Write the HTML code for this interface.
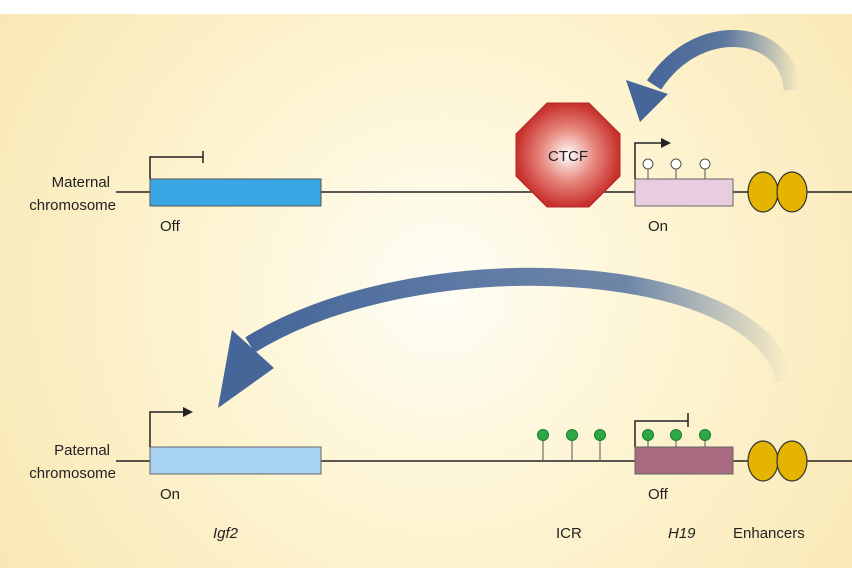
<!DOCTYPE html>
<html><head><style>body{margin:0}svg{display:block}text{font-family:"Liberation Sans",sans-serif;fill:#222}</style></head>
<body>
<svg width="852" height="568" viewBox="0 0 852 568" xmlns="http://www.w3.org/2000/svg">
<defs>
<radialGradient id="bg" cx="440" cy="290" r="520" gradientUnits="userSpaceOnUse">
<stop offset="0" stop-color="#fffef6"/><stop offset="0.45" stop-color="#fdf4d2"/><stop offset="1" stop-color="#f9e8b4"/></radialGradient>
<radialGradient id="oct" cx="0.5" cy="0.5" r="0.5"><stop offset="0" stop-color="#fff"/><stop offset="0.5" stop-color="#e88a80"/><stop offset="1" stop-color="#c8302c"/></radialGradient>
<linearGradient id="g1" x1="790" y1="0" x2="250" y2="0" gradientUnits="userSpaceOnUse"><stop offset="0" stop-color="#4a6a9a" stop-opacity="0"/><stop offset="0.3" stop-color="#4a6a9a" stop-opacity="0.8"/><stop offset="1" stop-color="#46669a"/></linearGradient>
<linearGradient id="g2" x1="800" y1="0" x2="650" y2="0" gradientUnits="userSpaceOnUse"><stop offset="0" stop-color="#4a6a9a" stop-opacity="0"/><stop offset="0.5" stop-color="#4a6a9a" stop-opacity="0.9"/><stop offset="1" stop-color="#46669a"/></linearGradient>
</defs>
<rect width="852" height="568" fill="#fff"/>
<rect x="0" y="14" width="852" height="554" fill="url(#bg)"/>
<!-- arrows -->
<path d="M785 380 C760 260 420 240 250 345" fill="none" stroke="url(#g1)" stroke-width="18"/>
<polygon points="218,408 232,330 274,368" fill="#46669a"/>
<path d="M792 90 C790 30 700 15 654 85" fill="none" stroke="url(#g2)" stroke-width="17"/>
<polygon points="640,122 626,80 668,94" fill="#46669a"/>
<!-- maternal -->
<line x1="116" y1="192" x2="852" y2="192" stroke="#222" stroke-width="1.5"/>
<rect x="150" y="179" width="171" height="27" fill="#3aa6e4" stroke="#555"/>
<path d="M150 179V157H203M203 151V163" fill="none" stroke="#222" stroke-width="1.5"/>
<text x="160" y="231" font-size="15">Off</text>
<text x="110" y="187" font-size="15" text-anchor="end">Maternal</text>
<text x="116" y="210" font-size="15" text-anchor="end">chromosome</text>
<polygon points="547,103 589,103 620,134 620,176 589,207 547,207 516,176 516,134" fill="url(#oct)" stroke="#b02a28"/>
<text x="568" y="161" font-size="15" text-anchor="middle">CTCF</text>
<rect x="635" y="179" width="98" height="27" fill="#e8cce0" stroke="#666"/>
<g stroke="#555" fill="#fff"><line x1="648" y1="168" x2="648" y2="179"/><line x1="676" y1="168" x2="676" y2="179"/><line x1="705" y1="168" x2="705" y2="179"/>
<circle cx="648" cy="164" r="5"/><circle cx="676" cy="164" r="5"/><circle cx="705" cy="164" r="5"/></g>
<path d="M635 179V143H663" fill="none" stroke="#222" stroke-width="1.5"/><polygon points="671,143 661,138 661,148" fill="#222"/>
<text x="648" y="231" font-size="15">On</text>
<g fill="#e4b400" stroke="#333" stroke-width="1.2"><ellipse cx="763" cy="192" rx="15" ry="20"/><ellipse cx="792" cy="192" rx="15" ry="20"/></g>
<!-- paternal -->
<line x1="116" y1="461" x2="852" y2="461" stroke="#222" stroke-width="1.5"/>
<rect x="150" y="447" width="171" height="27" fill="#a8d2f2" stroke="#666"/>
<path d="M150 447V412H185" fill="none" stroke="#222" stroke-width="1.5"/><polygon points="193,412 183,407 183,417" fill="#222"/>
<text x="160" y="499" font-size="15">On</text>
<text x="110" y="455" font-size="15" text-anchor="end">Paternal</text>
<text x="116" y="478" font-size="15" text-anchor="end">chromosome</text>
<rect x="635" y="447" width="98" height="27" fill="#a86a7e" stroke="#666"/>
<path d="M635 447V421H688M688 413V427" fill="none" stroke="#222" stroke-width="1.5"/>
<g stroke="#555"><line x1="543" y1="435" x2="543" y2="461"/><line x1="572" y1="435" x2="572" y2="461"/><line x1="600" y1="435" x2="600" y2="461"/>
<line x1="648" y1="435" x2="648" y2="447"/><line x1="676" y1="435" x2="676" y2="447"/><line x1="705" y1="435" x2="705" y2="447"/></g>
<g fill="#2ea844" stroke="#1d7a30"><circle cx="543" cy="435" r="5.5"/><circle cx="572" cy="435" r="5.5"/><circle cx="600" cy="435" r="5.5"/><circle cx="648" cy="435" r="5.5"/><circle cx="676" cy="435" r="5.5"/><circle cx="705" cy="435" r="5.5"/></g>
<text x="648" y="499" font-size="15">Off</text>
<g fill="#e4b400" stroke="#333" stroke-width="1.2"><ellipse cx="763" cy="461" rx="15" ry="20"/><ellipse cx="792" cy="461" rx="15" ry="20"/></g>
<text x="213" y="538" font-size="15" font-style="italic">Igf2</text>
<text x="556" y="538" font-size="15">ICR</text>
<text x="668" y="538" font-size="15" font-style="italic">H19</text>
<text x="733" y="538" font-size="15">Enhancers</text>
</svg>
</body></html>
